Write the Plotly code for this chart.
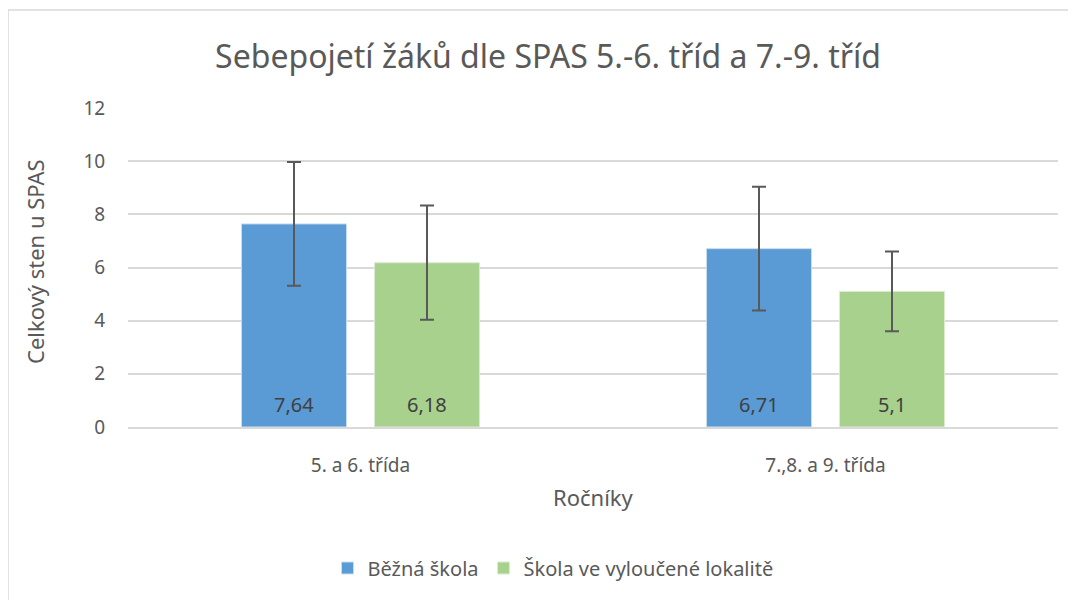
import plotly.graph_objects as go

categories = ['5. a 6. třída', '7.,8. a 9. třída']
bezna_skola = [7.64, 6.71]
bezna_sd = [2.33, 2.33]
vyloucena_lokalita = [6.18, 5.1]
vyloucena_sd = [2.15, 1.5]
y_ticks = [0, 2, 4, 6, 8, 10, 12]

FONT = 'Noto Sans'
TXT = '#595959'


def fmt(v):
    return f'{v:g}'.replace('.', ',')


fig = go.Figure()

fig.add_trace(go.Bar(
    x=categories,
    y=bezna_skola,
    name='Běžná škola',
    marker=dict(color='#5B9BD5', line=dict(color='#C9DDF0', width=1)),
    error_y=dict(type='data', array=bezna_sd, color='#595959', thickness=2, width=7),
))

fig.add_trace(go.Bar(
    x=categories,
    y=vyloucena_lokalita,
    name='Škola ve vyloučené lokalitě',
    marker=dict(color='#A9D18E', line=dict(color='#DCEBD1', width=1)),
    error_y=dict(type='data', array=vyloucena_sd, color='#595959', thickness=2, width=7),
))

# data labels near the base of each bar
annotations = []
for series, shift in [(bezna_skola, -66.5), (vyloucena_lokalita, 66.5)]:
    for cat, v in zip(categories, series):
        annotations.append(dict(x=cat, y=0, xref='x', yref='y', text=fmt(v),
                                showarrow=False, xshift=shift, yshift=23,
                                yanchor='middle',
                                font=dict(family=FONT, size=20, color='#404040')))

# axis titles
annotations.append(dict(text='Ročníky', xref='paper', yref='paper', x=0.5, y=(427 - 497) / 319,
                        showarrow=False, yanchor='middle', font=dict(size=22, color=TXT)))
annotations.append(dict(text='Celkový sten u SPAS', xref='paper', yref='paper',
                        x=(35 - 128) / 930, y=(427 - 262) / 319, textangle=-90,
                        showarrow=False, xanchor='center', yanchor='middle',
                        font=dict(size=22, color=TXT)))

# page body has an 8px margin, so the figure is 8px smaller than the window
fig.update_layout(
    width=1068,
    height=592,
    paper_bgcolor='white',
    plot_bgcolor='white',
    font=dict(family=FONT, color=TXT, size=16),
    title=dict(text='Sebepojetí žáků dle SPAS 5.-6. tříd a 7.-9. tříd',
               x=0.5056, xanchor='center', y=0.917, yanchor='middle',
               font=dict(size=32, color=TXT)),
    margin=dict(l=120, r=18, t=100, b=173),
    barmode='group',
    bargap=0.428,
    bargroupgap=0.21,
    showlegend=True,
    legend=dict(orientation='h', x=0.457, xanchor='center', y=(427 - 568) / 319, yanchor='middle',
                font=dict(size=20, color=TXT), traceorder='normal'),
    xaxis=dict(
        automargin=False,
        tickfont=dict(size=19, color=TXT),
        showline=True, linecolor='#D9D9D9', linewidth=1.5,
        ticks='outside', ticklen=20, tickcolor='rgba(0,0,0,0)',
    ),
    yaxis=dict(
        automargin=False,
        range=[0, 12],
        tickvals=y_ticks,
        tickfont=dict(size=19, color=TXT),
        gridcolor='#D9D9D9', gridwidth=1.5,
        zeroline=False,
        ticks='outside', ticklen=18, tickcolor='rgba(0,0,0,0)',
    ),
    annotations=annotations,
    shapes=[dict(type='rect', xref='paper', yref='paper',
                 x0=(8 - 128) / 930, x1=(1090 - 128) / 930,
                 y0=(427 - 620) / 319, y1=(427 - 10) / 319,
                 line=dict(color='#D9D9D9', width=1.5), fillcolor='rgba(0,0,0,0)')],
)

fig.write_html('out.html')
